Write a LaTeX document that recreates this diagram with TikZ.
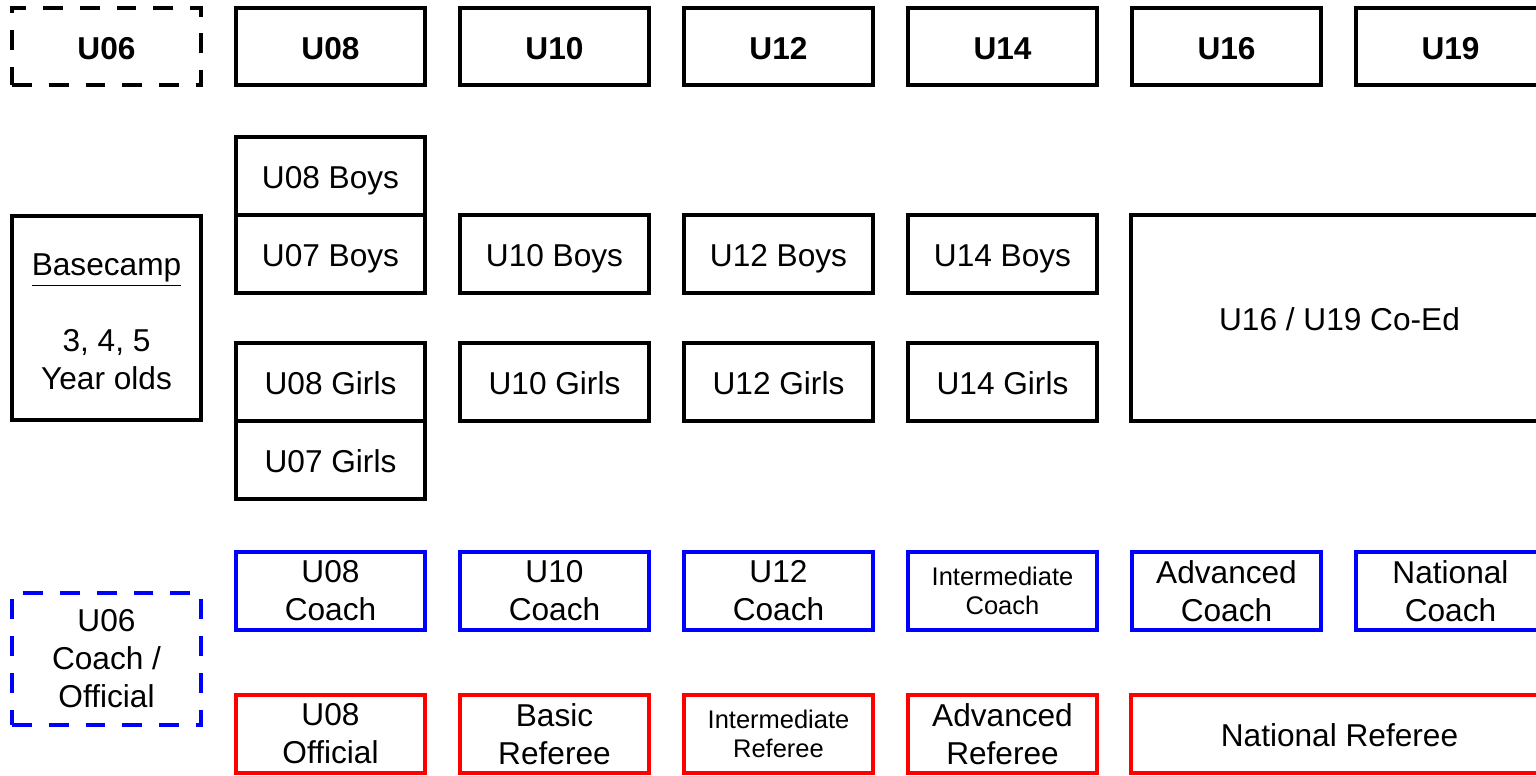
\documentclass[tikz,border=0pt]{standalone}
\usepackage{fontspec}
\setmainfont{Liberation Sans}
\begin{document}
\begin{tikzpicture}
	[x=0.02cm, y=-0.02cm,
	 box/.style={draw, line width=0.08cm, minimum width=3.8cm, minimum height=1.56cm, inner sep=0pt, text height=14.5pt, text depth=0pt, font=\fontsize{18}{21.6}\selectfont},
	 two/.style={align=center, text height=, text depth=},
	 age/.style={box, font=\bfseries\fontsize{18}{21.6}\selectfont},
	 coach/.style={box, draw=blue},
	 official/.style={box, draw=red},
	 small/.style={font=\fontsize{14.5}{16.5}\selectfont},
	 maybe/.style={dash pattern=on 0.4cm off 0.34cm}]
	\useasboundingbox (0,0) rectangle (1536,776);

	% age groups
	\node[age, maybe] (u06) at (106.5,46.5) {U06};
	\node[age] (u08) at (330.5,46.5) {U08};
	\node[age] (u10) at (554.5,46.5) {U10};
	\node[age] (u12) at (778.5,46.5) {U12};
	\node[age] (u14) at (1002.5,46.5) {U14};
	\node[age] (u16) at (1226.5,46.5) {U16};
	\node[age] (u19) at (1450.5,46.5) {U19};

	% teams
	\node[box, two, minimum height=4.08cm] (base) at (106.5,318) {\rule{0pt}{17pt}\underline{Basecamp}\\[21.6pt]3, 4, 5\\Year olds};
	\node[box] (u08b) at (330.5,176) {U08 Boys};
	\node[box] (u07b) at (330.5,254) {U07 Boys};
	\node[box] (u08g) at (330.5,382) {U08 Girls};
	\node[box] (u07g) at (330.5,460) {U07 Girls};
	\node[box] (u10b) at (554.5,254) {U10 Boys};
	\node[box] (u10g) at (554.5,382) {U10 Girls};
	\node[box] (u12b) at (778.5,254) {U12 Boys};
	\node[box] (u12g) at (778.5,382) {U12 Girls};
	\node[box] (u14b) at (1002.5,254) {U14 Boys};
	\node[box] (u14g) at (1002.5,382) {U14 Girls};
	\node[box, minimum width=8.34cm, minimum height=4.12cm] (coed) at (1339.5,318) {U16 / U19 Co-Ed};

	% coaches
	\node[coach, two, maybe, minimum height=2.64cm] (u06c) at (106.5,659) {U06\\Coach /\\Official};
	\node[coach, two] (u08c) at (330.5,591) {U08\\Coach};
	\node[coach, two] (u10c) at (554.5,591) {U10\\Coach};
	\node[coach, two] (u12c) at (778.5,591) {U12\\Coach};
	\node[coach, two, small] (intc) at (1002.5,591) {Intermediate\\Coach};
	\node[coach, two] (advc) at (1226.5,591) {Advanced\\Coach};
	\node[coach, two] (natc) at (1450.5,591) {National\\Coach};

	% officials
	\node[official, two] (u08o) at (330.5,734) {U08\\Official};
	\node[official, two] (basr) at (554.5,734) {Basic\\Referee};
	\node[official, two, small] (intr) at (778.5,734) {Intermediate\\Referee};
	\node[official, two] (advr) at (1002.5,734) {Advanced\\Referee};
	\node[official, minimum width=8.34cm] (natr) at (1339.5,734) {National Referee};
\end{tikzpicture}
\end{document}
